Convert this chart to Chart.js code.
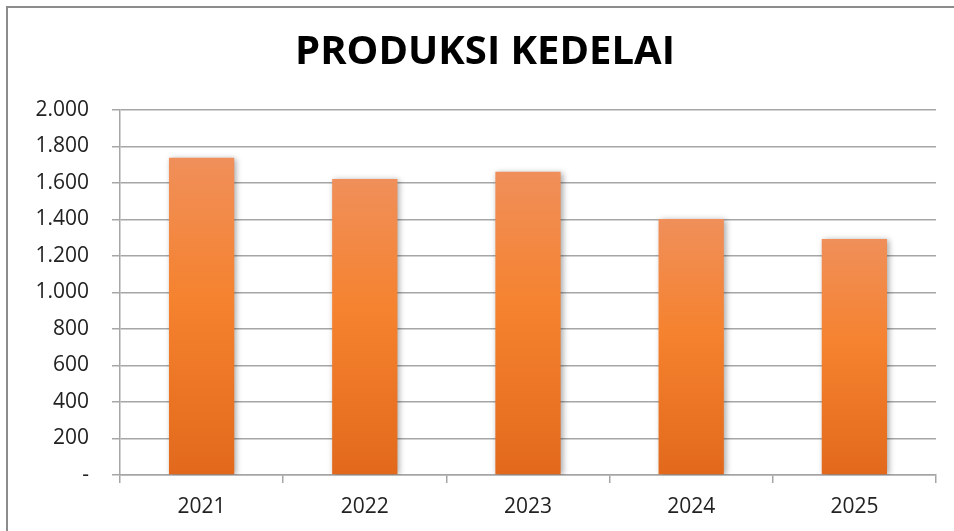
<!DOCTYPE html>
<html>
<head>
<meta charset="utf-8">
<script src="https://cdn.jsdelivr.net/npm/chart.js@4"></script>
<style>
    html, body { margin: 0; padding: 0; background: #fff; }
    #wrap { width: 954px; height: 531px; position: relative; }
</style>
</head>
<body>
<div id="wrap"><canvas id="kedelaiChart"></canvas></div>
<script>
// data produksi kedelai
const tahun = ['2021', '2022', '2023', '2024', '2025'];
const produksi = [1739, 1622, 1662, 1403, 1293];
const yTicks = [0, 200, 400, 600, 800, 1000, 1200, 1400, 1600, 1800, 2000];

// format angka gaya Indonesia: 2000 -> "2.000", 0 -> "-"
const formatAngka = v => v === 0 ? '-' : String(v).replace(/\B(?=(\d{3})+(?!\d))/g, '.');

// gradasi per batang (atas lebih terang)
function warnaBatang(context) {
    const chart = context.chart;
    const { chartArea } = chart;
    if (!chartArea || context.parsed === undefined) return '#f27f31';
    const yScale = chart.scales.y;
    const top = yScale.getPixelForValue(context.parsed.y);
    const bottom = yScale.getPixelForValue(0);
    const g = chart.ctx.createLinearGradient(0, top, 0, bottom);
    g.addColorStop(0, '#f08f5a');
    g.addColorStop(0.45, '#f5822e');
    g.addColorStop(1, '#e2691c');
    return g;
}

// bayangan batang
const bayangan = {
    id: 'bayangan',
    beforeDatasetsDraw(chart) {
        const ctx = chart.ctx;
        ctx.save();
        ctx.shadowColor = 'rgba(0,0,0,0.35)';
        ctx.shadowBlur = 6;
        ctx.shadowOffsetX = 2;
        ctx.shadowOffsetY = 1;
    },
    afterDatasetsDraw(chart) {
        chart.ctx.restore();
    }
};

// garis bingkai luar
const bingkai = {
    id: 'bingkai',
    afterDraw(chart) {
        const ctx = chart.ctx;
        ctx.save();
        ctx.strokeStyle = '#8c8c8c';
        ctx.lineWidth = 2;
        ctx.beginPath();
        ctx.moveTo(7, chart.height + 2);
        ctx.lineTo(7, 7);
        ctx.lineTo(chart.width + 2, 7);
        ctx.stroke();
        ctx.restore();
    }
};

const ctx = document.getElementById('kedelaiChart').getContext('2d');

new Chart(ctx, {
    type: 'bar',
    data: {
        labels: tahun,
        datasets: [{
            label: 'Produksi',
            data: produksi,
            backgroundColor: warnaBatang,
            borderWidth: 0,
            barPercentage: 0.4,
            categoryPercentage: 1
        }]
    },
    options: {
        responsive: true,
        maintainAspectRatio: false,
        animation: false,
        layout: {
            padding: { top: 10, right: 18, bottom: 0, left: 34 }
        },
        plugins: {
            legend: { display: false },
            tooltip: { enabled: false },
            title: {
                display: true,
                text: 'PRODUKSI KEDELAI',
                color: '#000',
                font: { family: 'Open Sans', size: 40, weight: 'bold' },
                padding: { top: 19, bottom: 33 }
            }
        },
        scales: {
            x: {
                grid: {
                    display: true,
                    drawOnChartArea: false,
                    drawTicks: true,
                    tickLength: 8,
                    color: '#a6a6a6',
                    lineWidth: 1.5
                },
                border: { color: '#a6a6a6', width: 1.5 },
                ticks: {
                    color: '#222',
                    padding: 11,
                    font: { family: 'Open Sans', size: 21 }
                },
                afterFit(scale) { scale.height = 56; }
            },
            y: {
                min: 0,
                max: 2000,
                afterBuildTicks(scale) {
                    scale.ticks = yTicks.map(v => ({ value: v }));
                },
                grid: {
                    color: '#a6a6a6',
                    lineWidth: 1.5,
                    tickLength: 8
                },
                border: { color: '#a6a6a6', width: 1.5 },
                ticks: {
                    color: '#222',
                    padding: 23,
                    font: { family: 'Open Sans', size: 21 },
                    callback: value => formatAngka(value)
                },
                afterFit(scale) { scale.width = 86; }
            }
        }
    },
    plugins: [bayangan, bingkai]
});
</script>
</body>
</html>
